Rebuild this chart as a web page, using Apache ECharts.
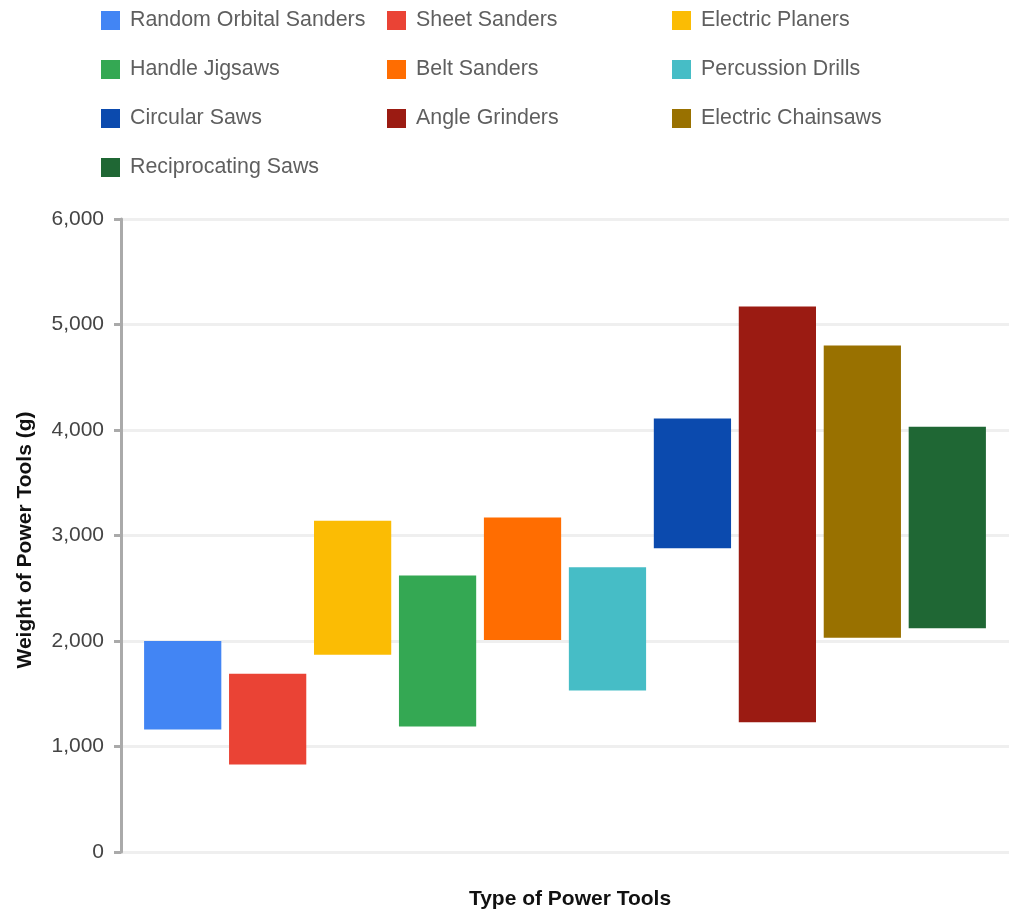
<!DOCTYPE html>
<html>
<head>
<meta charset="utf-8">
<script src="https://cdn.jsdelivr.net/npm/echarts@6/dist/echarts.min.js"></script>
<style>html,body{margin:0;padding:0;background:#fff;}#c{width:1009px;height:922px;}</style>
</head>
<body>
<div id="c"></div>
<script>
var tools = ['Random Orbital Sanders','Sheet Sanders','Electric Planers','Handle Jigsaws','Belt Sanders','Percussion Drills','Circular Saws','Angle Grinders','Electric Chainsaws','Reciprocating Saws'];
var lowWeights  = [1160, 830, 1870, 1190, 2010, 1530, 2880, 1230, 2030, 2120];
var highWeights = [2000, 1690, 3140, 2620, 3170, 2700, 4110, 5170, 4800, 4030];
var colors = ['#4285F4','#EA4335','#FBBC04','#34A853','#FF6D01','#46BDC6','#0B4AAE','#9B1B12','#997100','#1F6734'];
var yTicks = [0, 1000, 2000, 3000, 4000, 5000, 6000];
var xTitle = 'Type of Power Tools';
var yTitle = 'Weight of Power Tools (g)';

var FONT = '"Liberation Sans", Arial, sans-serif';
var series = [];
tools.forEach(function (t, i) {
  series.push({
    type: 'bar', name: '__base' + i, stack: 's' + i, silent: true,
    itemStyle: { color: 'rgba(0,0,0,0)' },
    data: [lowWeights[i]],
    barCategoryGap: '5.2%', barGap: '10%'
  });
  series.push({
    type: 'bar', name: t, stack: 's' + i,
    itemStyle: { color: colors[i] },
    data: [highWeights[i] - lowWeights[i]],
    barCategoryGap: '5.2%', barGap: '10%'
  });
});

function legendCol(names, left) {
  return {
    orient: 'vertical', left: left, top: 10, padding: 0,
    itemWidth: 19, itemHeight: 19, itemGap: 28, icon: 'rect',
    selectedMode: false,
    data: names,
    textStyle: { fontFamily: FONT, fontSize: 21.4, color: '#5f5f5f', lineHeight: 20, padding: [0, 0, 0, 5] }
  };
}

var chart = echarts.init(document.getElementById('c'), null, { renderer: 'canvas' });
chart.setOption({
  animation: false,
  color: colors,
  legend: [
    legendCol([tools[0], tools[3], tools[6], tools[9]], 101),
    legendCol([tools[1], tools[4], tools[7]], 387),
    legendCol([tools[2], tools[5], tools[8]], 672)
  ],
  grid: { left: 121, right: 0, top: 219, bottom: 70, containLabel: false },
  xAxis: {
    type: 'category', data: [''],
    axisLine: { show: false }, axisTick: { show: false }, axisLabel: { show: false },
    splitLine: { show: false }
  },
  yAxis: {
    type: 'value', min: yTicks[0], max: yTicks[yTicks.length - 1], interval: yTicks[1] - yTicks[0],
    axisLine: { show: true, lineStyle: { color: '#aaaaaa', width: 3 } },
    axisTick: { show: true, length: 7, lineStyle: { color: '#aaaaaa', width: 3 } },
    axisLabel: {
      margin: 17, fontFamily: FONT, fontSize: 21, color: '#444444',
      formatter: function (v) { return v.toLocaleString('en-US'); }
    },
    splitLine: { show: true, lineStyle: { color: '#efefef', width: 3 } }
  },
  graphic: [
    {
      type: 'text', x: 570, y: 899,
      style: { text: xTitle, fontFamily: FONT, fontSize: 21, fontWeight: 'bold', fill: '#111', align: 'center', verticalAlign: 'middle' }
    },
    {
      type: 'text', x: 25, y: 540, rotation: Math.PI / 2,
      style: { text: yTitle, fontFamily: FONT, fontSize: 21, fontWeight: 'bold', fill: '#111', align: 'center', verticalAlign: 'middle' }
    }
  ],
  series: series
});
</script>
</body>
</html>
